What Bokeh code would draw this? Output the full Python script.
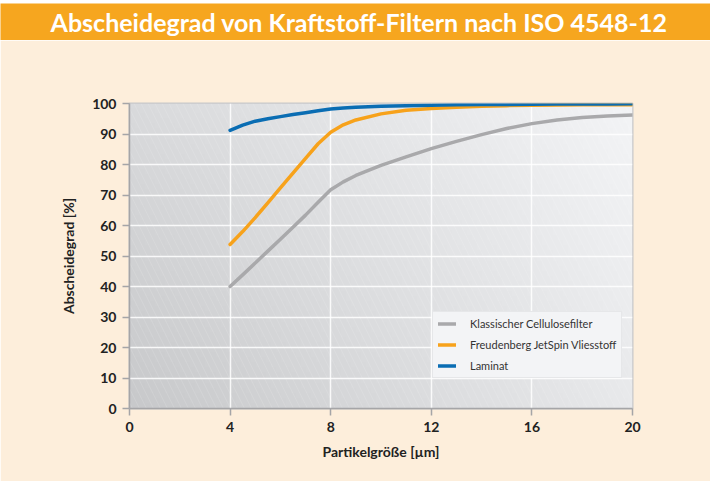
import numpy as np
from bokeh.plotting import figure
from bokeh.layouts import column
from bokeh.models import Legend, LegendItem, FixedTicker, Range1d
from bokeh.core.properties import value
from bokeh.embed import file_html
from bokeh.resources import INLINE

title_text = "Abscheidegrad von Kraftstoff-Filtern nach ISO 4548-12"
x_label = "Partikelgröße [µm]"
y_label = "Abscheidegrad [%]"

x_ticks = [0, 4, 8, 12, 16, 20]
y_ticks = [0, 10, 20, 30, 40, 50, 60, 70, 80, 90, 100]

particle_size = [4, 4.5, 5, 5.5, 6, 6.5, 7, 7.5, 8, 8.5, 9, 10, 11, 12, 13, 14, 15, 16, 17, 18, 19, 20]
cellulose = [40.0, 43.8, 47.7, 51.6, 55.5, 59.4, 63.4, 67.6, 71.7, 74.3, 76.4, 79.7, 82.5, 85.2, 87.6, 89.8, 91.8, 93.4, 94.6, 95.4, 95.9, 96.2]
jetspin = [53.8, 58.0, 62.6, 67.4, 72.3, 77.2, 82.0, 86.8, 90.6, 93.0, 94.6, 96.6, 97.8, 98.4, 98.8, 99.1, 99.3, 99.4, 99.5, 99.55, 99.6, 99.6]
laminat = [91.2, 92.9, 94.2, 95.0, 95.7, 96.4, 97.0, 97.6, 98.2, 98.5, 98.8, 99.1, 99.3, 99.45, 99.55, 99.65, 99.7, 99.75, 99.8, 99.85, 99.85, 99.9]

series_names = ["Klassischer Cellulosefilter", "Freudenberg JetSpin Vliesstoff", "Laminat"]
series_colors = ["#a9a9ab", "#f7a21b", "#0a6db3"]

x_range = (0, 20)
y_range = (0, 100)

CREAM = "#fdeedb"
ORANGE = "#f6a61f"
FONT = "Lato"

# ---- title bar ----
tf = figure(width=710, height=40, output_backend="svg", toolbar_location=None,
            x_range=Range1d(0, 1), y_range=Range1d(0, 1),
            min_border_left=0, min_border_right=0, min_border_top=3, min_border_bottom=0,
            border_fill_color="white", background_fill_color=ORANGE, outline_line_color=None)
tf.frame_align = False
tf.axis.visible = False
tf.grid.visible = False
tf.text(x=[0.505], y=[0.5], text=[title_text], text_align="center", text_baseline="middle",
        text_font=value(FONT), text_font_size="25px", text_font_style="bold", text_color="white")

# ---- main chart ----
p = figure(width=710, height=441, output_backend="svg", toolbar_location=None,
           x_range=Range1d(*x_range), y_range=Range1d(*y_range),
           min_border_left=129, min_border_right=78, min_border_top=63, min_border_bottom=73,
           border_fill_color=CREAM, background_fill_color="#e0e1e3",
           outline_line_color="#c8c8ca", outline_line_width=2)
p.frame_align = False

# gradient background
ny, nx = 60, 100
fx = np.linspace(0, 1, nx)[None, :]
fy = np.linspace(0, 1, ny)[:, None]
bl, tl, br, tr = 200.0, 217.0, 232.0, 243.0
g = bl * (1 - fx) * (1 - fy) + tl * (1 - fx) * fy + br * fx * (1 - fy) + tr * fx * fy
img = np.zeros((ny, nx), dtype=np.uint32)
view = img.view(dtype=np.uint8).reshape((ny, nx, 4))
view[:, :, 0] = g.astype(np.uint8)
view[:, :, 1] = (g + 1).astype(np.uint8)
view[:, :, 2] = (g + 3).clip(0, 255).astype(np.uint8)
view[:, :, 3] = 255
p.image_rgba(image=[img], x=x_range[0], y=y_range[0], dw=x_range[1] - x_range[0],
             dh=y_range[1] - y_range[0], level="image")
p.quad(left=[x_range[0]], right=[x_range[1]], bottom=[y_range[0]], top=[y_range[1]],
       fill_alpha=0, line_alpha=0, hatch_pattern="\\", hatch_color="white",
       hatch_alpha=0.18, hatch_scale=14, hatch_weight=0.6, level="image")

renderers = []
for ys, c in zip([cellulose, jetspin, laminat], series_colors):
    r = p.line(particle_size, ys, line_color=c, line_width=3.5, line_cap="round", line_join="round")
    renderers.append(r)

legend = Legend(items=[LegendItem(label=n, renderers=[r]) for n, r in zip(series_names, renderers)],
                location=(303, 30), background_fill_color="#f3f4f6", background_fill_alpha=1,
                border_line_color="#d9d9db", border_line_width=1,
                label_text_font=FONT, label_text_font_size="11px", label_text_color="#333333",
                glyph_width=18, glyph_height=13, label_height=13, spacing=8, padding=5, margin=0,
                label_standoff=14)
p.add_layout(legend)

for ax in (p.xaxis[0], p.yaxis[0]):
    ax.axis_line_color = "#a5a5a7"
    ax.axis_line_width = 1.5
    ax.major_tick_line_color = "#a5a5a7"
    ax.major_tick_line_width = 1.5
    ax.major_tick_out = 7
    ax.major_tick_in = 0
    ax.minor_tick_line_color = None
    ax.major_label_text_font = FONT
    ax.major_label_text_font_size = "14px"
    ax.major_label_text_font_style = "bold"
    ax.major_label_text_color = "#222222"
    ax.axis_label_text_font = FONT
    ax.axis_label_text_font_size = "14px"
    ax.axis_label_text_font_style = "bold"
    ax.axis_label_text_color = "#222222"

p.xaxis.ticker = FixedTicker(ticks=x_ticks)
p.yaxis.ticker = FixedTicker(ticks=y_ticks)
p.xaxis.axis_label = x_label
p.yaxis.axis_label = y_label
p.xaxis.major_label_standoff = 6
p.yaxis.major_label_standoff = 6
p.xaxis.axis_label_standoff = 8
p.yaxis.axis_label_standoff = 12

p.xgrid.ticker = FixedTicker(ticks=x_ticks)
p.ygrid.ticker = FixedTicker(ticks=y_ticks)
p.grid.grid_line_color = "white"
p.grid.grid_line_width = 1.5
p.grid.grid_line_alpha = 0.85

layout = column(tf, p, spacing=0)
open("out.html", "w").write(file_html(layout, INLINE))
